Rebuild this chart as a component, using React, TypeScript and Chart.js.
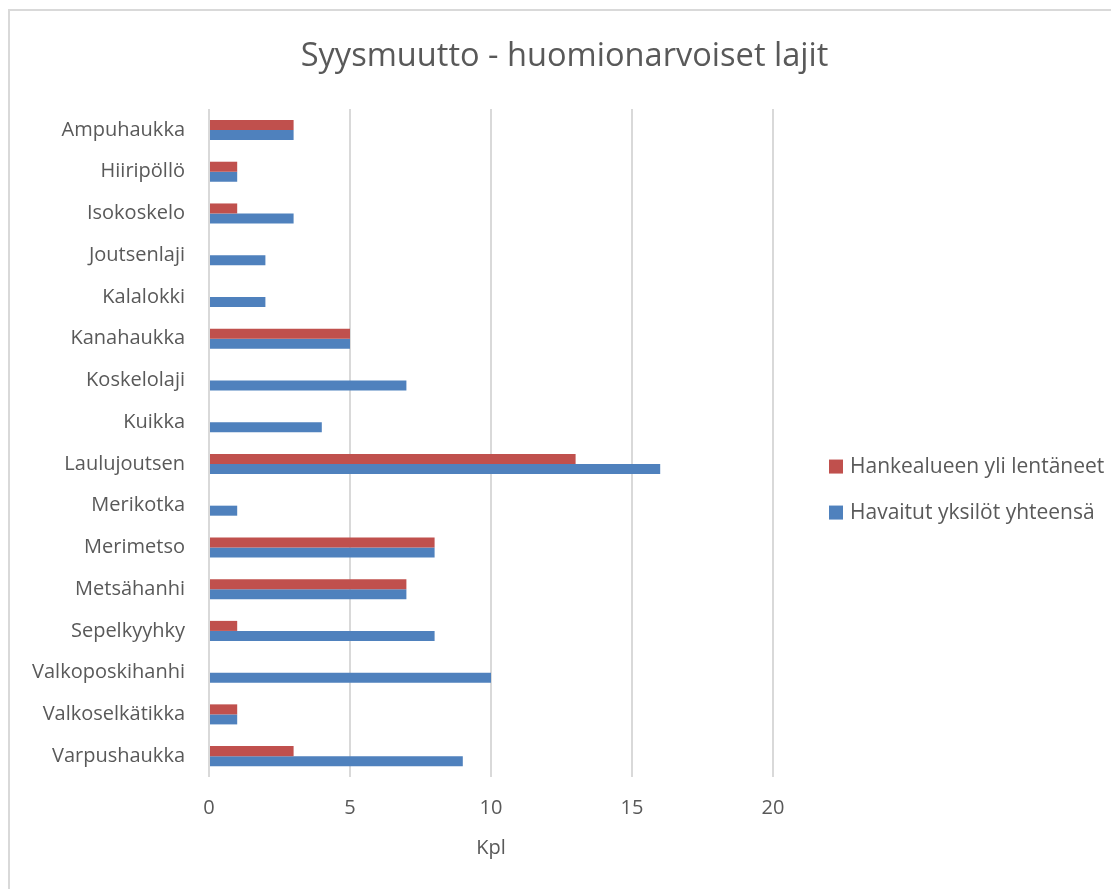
import React, { useEffect, useRef } from "react";
import { Chart, registerables } from "chart.js";

Chart.register(...registerables);

const categories = [
  "Ampuhaukka",
  "Hiiripöllö",
  "Isokoskelo",
  "Joutsenlaji",
  "Kalalokki",
  "Kanahaukka",
  "Koskelolaji",
  "Kuikka",
  "Laulujoutsen",
  "Merikotka",
  "Merimetso",
  "Metsähanhi",
  "Sepelkyyhky",
  "Valkoposkihanhi",
  "Valkoselkätikka",
  "Varpushaukka",
];

const hankealueenYli = [3, 1, 1, 0, 0, 5, 0, 0, 13, 0, 8, 7, 1, 0, 1, 3];
const havaitutYhteensa = [3, 1, 3, 2, 2, 5, 7, 4, 16, 1, 8, 7, 8, 10, 1, 9];

const seriesLabels = ["Hankealueen yli lentäneet", "Havaitut yksilöt yhteensä"];
const seriesColors = ["#C0504D", "#4F81BD"];

const xTicks = [0, 5, 10, 15, 20];

const FONT = "'Open Sans', sans-serif";
const TEXT = "#595959";
const GRID = "#d9d9d9";

const wideTitlePlugin = {
  id: "wideTitle",
  afterLayout(chart: any) {
    const t = chart.titleBlock;
    if (t) {
      t.left = 0;
      t.right = chart.width;
      t.width = chart.width;
    }
  },
};

const legendPlugin = {
  id: "sideLegend",
  afterDraw(chart: any) {
    const { ctx, chartArea } = chart;
    const mid = (chartArea.top + chartArea.bottom) / 2;
    const x0 = chartArea.right + 56;
    const ys = [mid + 23.5, mid + 69.5];
    ctx.save();
    chart.data.datasets.forEach((ds: any, i: number) => {
      const y = ys[i];
      ctx.fillStyle = ds.backgroundColor;
      ctx.fillRect(x0, y - 7, 14, 14);
      ctx.fillStyle = TEXT;
      ctx.font = `21px ${FONT}`;
      ctx.textAlign = "left";
      ctx.textBaseline = "middle";
      ctx.fillText(ds.label, x0 + 21, y);
    });
    ctx.restore();
  },
};

export default function App() {
  const ref = useRef<HTMLCanvasElement | null>(null);

  useEffect(() => {
    document.documentElement.style.overflow = "hidden";
    document.body.style.overflow = "hidden";
    const canvas = ref.current;
    if (!canvas) return;
    const chart = new Chart(canvas, {
      type: "bar",
      data: {
        labels: categories,
        datasets: [
          {
            label: seriesLabels[0],
            data: hankealueenYli,
            backgroundColor: seriesColors[0],
            borderWidth: 0,
            categoryPercentage: 0.48,
            barPercentage: 1,
          },
          {
            label: seriesLabels[1],
            data: havaitutYhteensa,
            backgroundColor: seriesColors[1],
            borderWidth: 0,
            categoryPercentage: 0.48,
            barPercentage: 1,
          },
        ],
      },
      options: {
        indexAxis: "y",
        responsive: false,
        animation: false,
        layout: { padding: { left: 0, right: 346, top: 0, bottom: 26 } },
        plugins: {
          legend: { display: false },
          tooltip: { enabled: false },
          title: {
            display: true,
            text: "Syysmuutto - huomionarvoiset lajit",
            color: TEXT,
            font: { family: FONT, size: 32.6, weight: "normal" },
            padding: { top: 26, bottom: 33 },
          },
        },
        scales: {
          x: {
            min: xTicks[0],
            max: xTicks[xTicks.length - 1],
            afterBuildTicks: (axis: any) => {
              axis.ticks = xTicks.map((v) => ({ value: v }));
            },
            afterFit: (axis: any) => {
              axis.height = 87;
            },
            grid: { color: GRID, lineWidth: 2, drawTicks: false },
            border: { display: false },
            ticks: {
              color: TEXT,
              padding: 19,
              font: { family: FONT, size: 20 },
            },
            title: {
              display: true,
              text: "Kpl",
              color: TEXT,
              font: { family: FONT, size: 20 },
              padding: { top: 16, bottom: 4 },
            },
          },
          y: {
            afterFit: (axis: any) => {
              axis.width = 199;
            },
            grid: { display: false, drawTicks: false },
            border: { display: false },
            ticks: {
              color: TEXT,
              padding: 24,
              font: { family: FONT, size: 20 },
            },
          },
        },
      },
      plugins: [wideTitlePlugin, legendPlugin],
    } as any);
    return () => chart.destroy();
  }, []);

  return (
    <div
      style={{
        position: "relative",
        top: 1,
        width: 1111,
        height: 881,
        boxSizing: "border-box",
        borderTop: `2px solid ${GRID}`,
        borderLeft: `2px solid ${GRID}`,
        background: "#fff",
      }}
    >
      <canvas ref={ref} width={1109} height={879} style={{ display: "block" }} />
    </div>
  );
}
